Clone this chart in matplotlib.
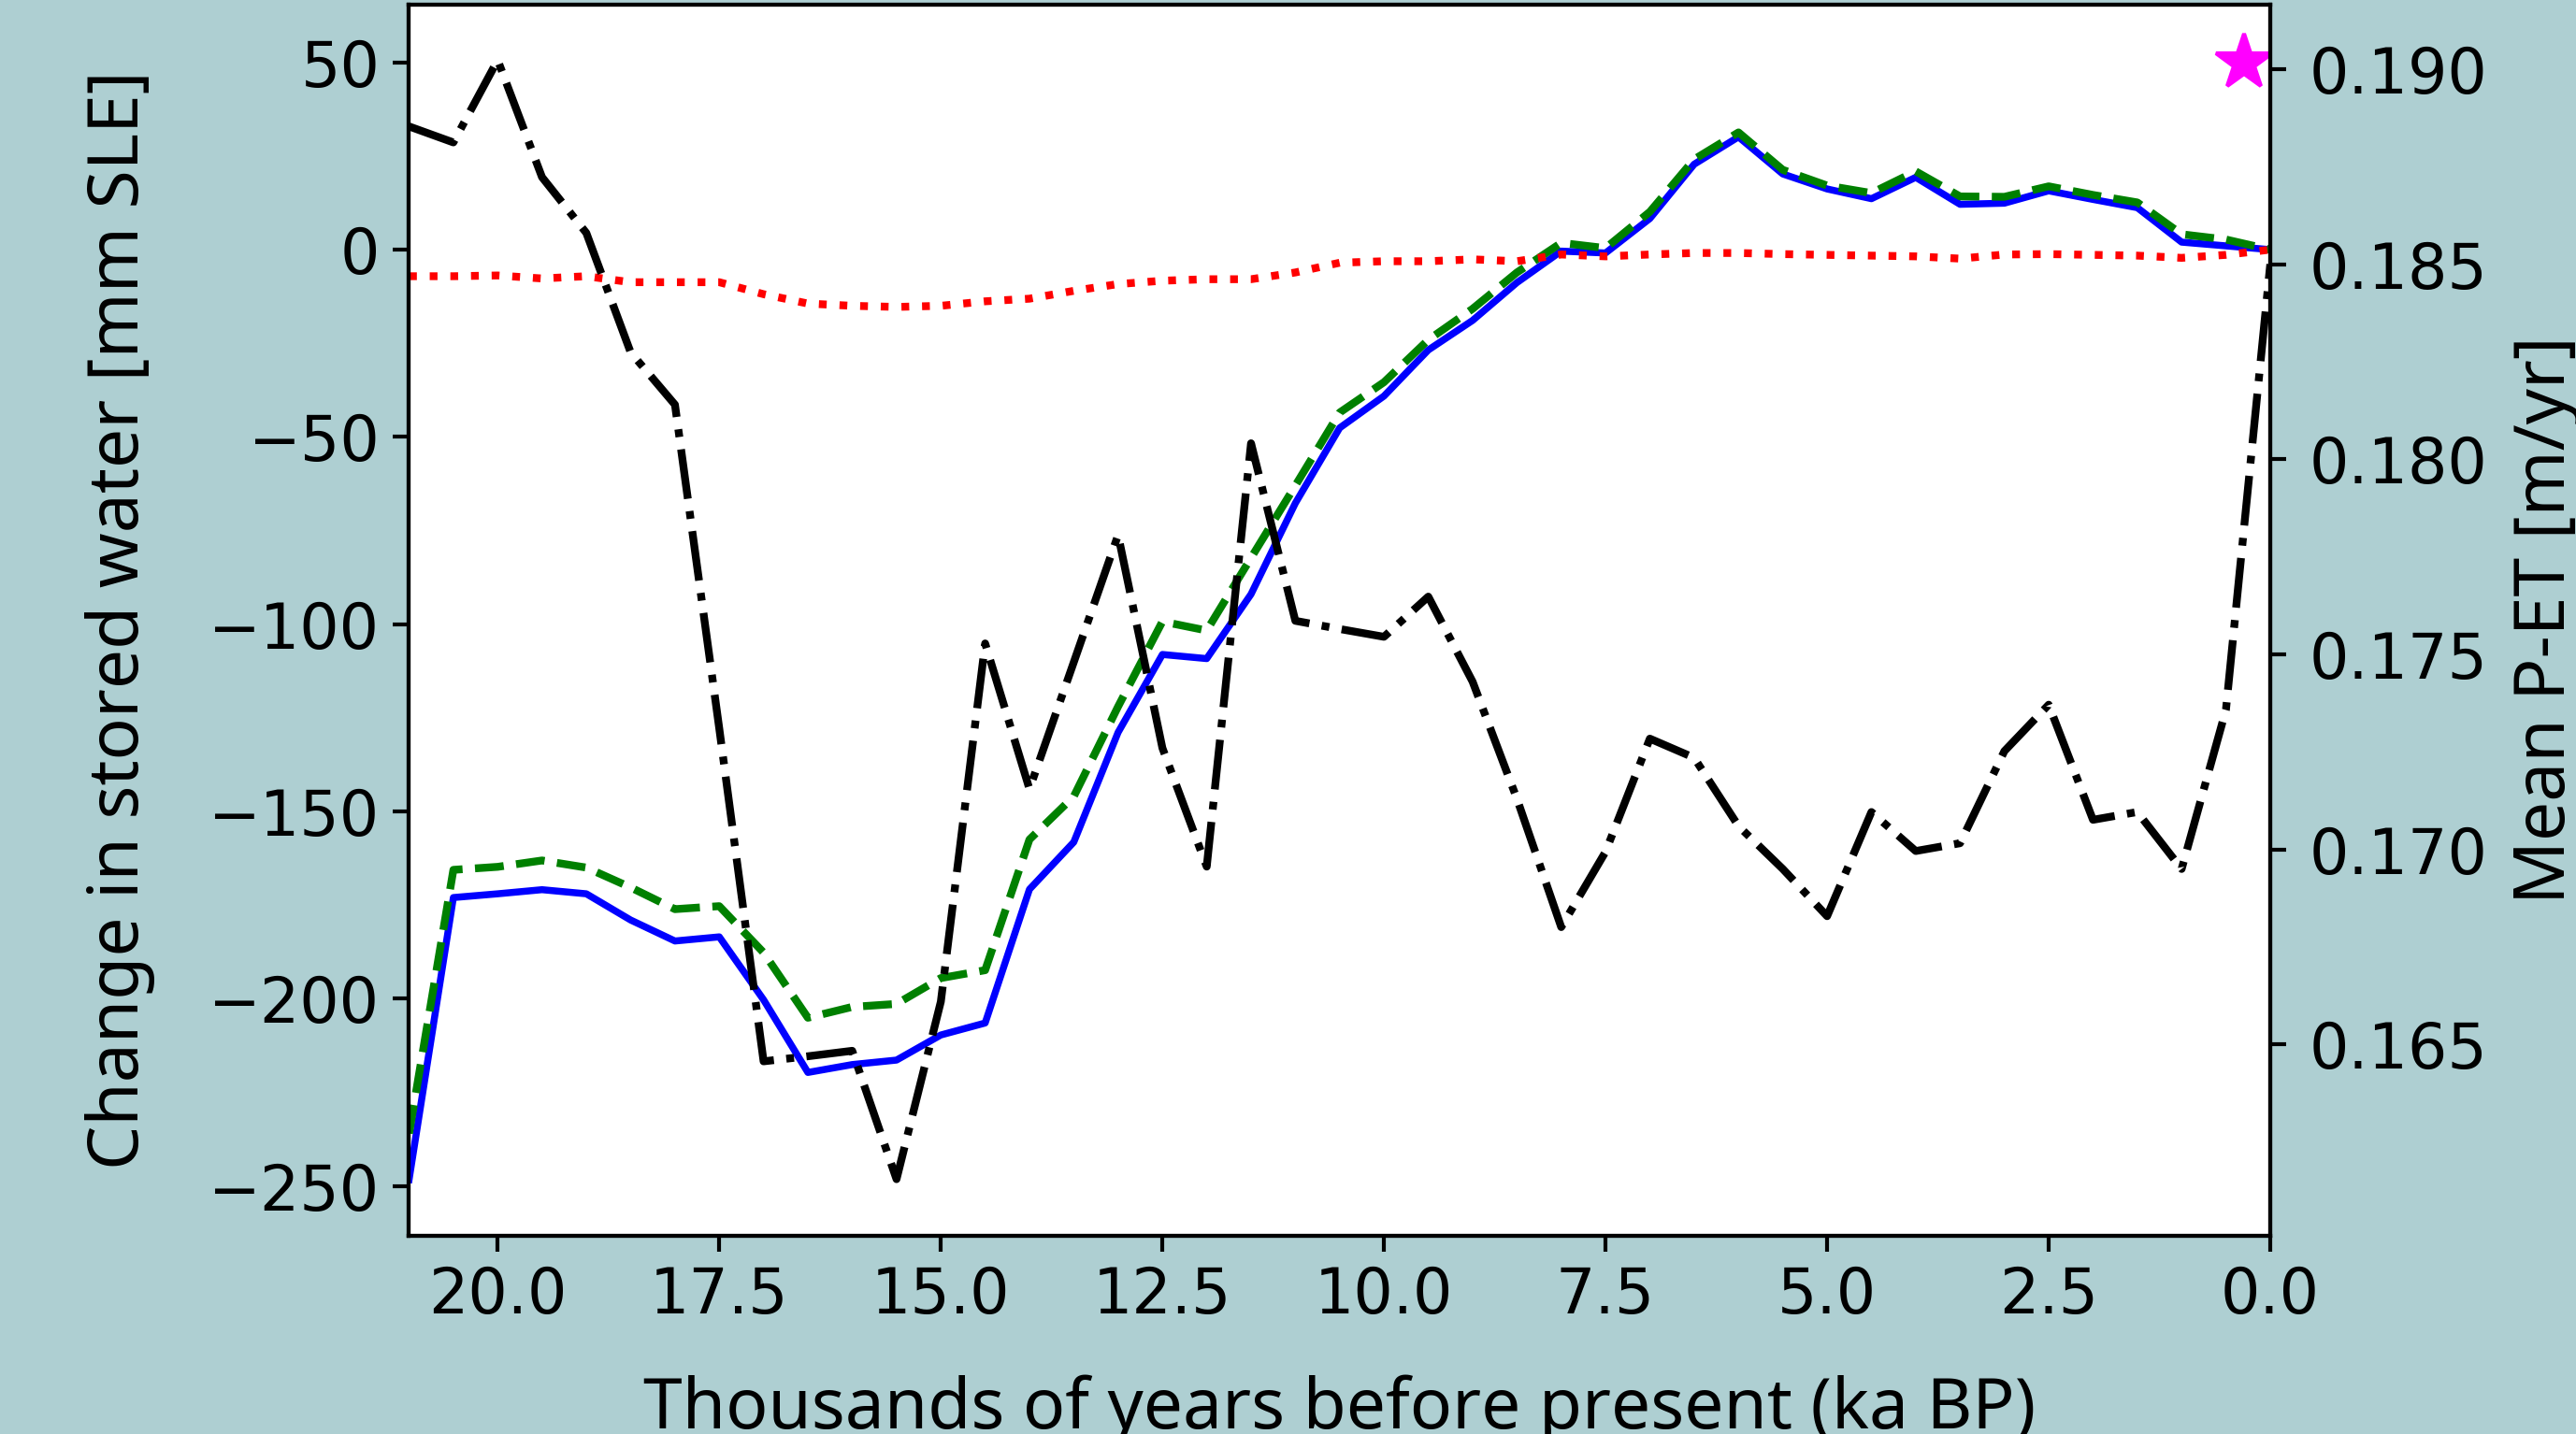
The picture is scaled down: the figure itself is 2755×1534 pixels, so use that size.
import matplotlib
matplotlib.use("Agg")
import matplotlib.pyplot as plt

plt.rcParams['font.family'] = ['Noto Sans', 'DejaVu Sans']

# thousands of years before present
ka = [21.0, 20.5, 20.0, 19.5, 19.0, 18.5, 18.0, 17.5, 17.0, 16.5, 16.0,
      15.5, 15.0, 14.5, 14.0, 13.5, 13.0, 12.5, 12.0, 11.5, 11.0, 10.5,
      10.0, 9.5, 9.0, 8.5, 8.0, 7.5, 7.0, 6.5, 6.0, 5.5, 5.0, 4.5, 4.0,
      3.5, 3.0, 2.5, 2.0, 1.5, 1.0, 0.5, 0.0]

# change in stored water [mm SLE]
stored_blue = [-248.3, -173.0, -172.0, -170.9, -172.0, -179.0, -184.6, -183.5,
               -200.3, -219.7, -217.6, -216.4, -209.7, -206.5, -170.8, -158.2,
               -128.9, -108.1, -109.2, -92.0, -67.7, -47.6, -39.1, -26.8, -18.9,
               -8.8, -0.4, -0.9, 8.3, 22.8, 30.1, 20.2, 16.2, 13.6, 19.3, 12.1,
               12.4, 15.7, 13.4, 11.2, 2.0, 1.0, 0.0]
stored_green = [-236.0, -165.6, -164.8, -163.1, -165.0, -170.3, -176.1, -175.3,
                -187.7, -205.1, -202.2, -201.4, -194.5, -192.4, -157.5, -146.0,
                -122.0, -99.3, -101.7, -82.3, -63.0, -43.5, -35.4, -24.1, -15.8,
                -6.1, 1.8, 0.4, 10.1, 24.1, 31.3, 21.3, 17.1, 15.1, 20.9, 14.2,
                14.1, 16.9, 14.6, 12.6, 4.1, 2.7, 0.0]
stored_red = [-7.1, -7.1, -6.9, -7.7, -7.1, -8.7, -8.7, -8.7, -11.9, -14.4,
              -15.0, -15.3, -15.0, -13.8, -13.1, -11.0, -9.2, -8.3, -7.9, -7.9,
              -6.1, -3.5, -3.1, -3.1, -2.6, -3.1, -1.3, -1.8, -1.3, -0.9, -0.9,
              -1.2, -1.4, -1.6, -1.8, -2.4, -1.3, -1.2, -1.4, -1.6, -2.2, -1.4, 0.0]

# mean P-ET [m/yr]
p_et = [0.18853, 0.18812, 0.19023, 0.18723, 0.1858, 0.18274, 0.1814, 0.1731,
        0.16457, 0.1647, 0.16484, 0.16155, 0.1661, 0.17528, 0.17155, 0.1748,
        0.17806, 0.1726, 0.16956, 0.18041, 0.17586, 0.17565, 0.17545, 0.17648,
        0.1743, 0.1713, 0.16801, 0.16994, 0.17284, 0.17235, 0.1706, 0.1695,
        0.16829, 0.17096, 0.16996, 0.17016, 0.17252, 0.17371, 0.17076, 0.17096,
        0.1695, 0.17358, 0.185]

star_ka = [0.3]
star_val = [50]

bg = '#aecfd2'
fig = plt.figure(figsize=(2755 / 300, 1534 / 300), dpi=300, facecolor=bg)
ax = fig.add_axes([0.1588, 0.13852, 0.72251, 0.85821])

ax.plot(ka, stored_blue, 'b-', lw=1.8)
ax.plot(ka, stored_green, 'g--', lw=2)
ax.plot(ka, stored_red, 'r:', lw=2)
ax.plot(star_ka, star_val, '*', color='#ff00ff', ms=15)
ax.set_xlim(21, 0)
ax.set_ylim(-263.2, 65.4)
ax.tick_params(labelsize=16, length=4, width=1, labelfontfamily='DejaVu Sans')
for s in ax.spines.values():
    s.set_linewidth(1)
ax.set_xlabel("Thousands of years before present (ka BP)", fontsize=18)
ax.xaxis.label.set_verticalalignment('baseline')
ax.xaxis.set_label_coords(0.5, -0.1568)
ax.set_ylabel("Change in stored water [mm SLE]", fontsize=18)
ax.yaxis.set_label_coords(-0.1365, 0.5)

ax2 = ax.twinx()
ax2.plot(ka, p_et, 'k-.', lw=2)
ax2.set_ylim(0.16011, 0.19165)
ax2.set_yticks([0.165, 0.170, 0.175, 0.180, 0.185, 0.190])
ax2.tick_params(labelsize=16, length=4, width=1, pad=6,
                labelfontfamily='DejaVu Sans')
for s in ax2.spines.values():
    s.set_linewidth(1)
ax2.set_ylabel("Mean P-ET [m/yr]", fontsize=18)
ax2.yaxis.set_label_coords(1.1295, 0.5)

fig.savefig("out.png", dpi=300, facecolor=bg)
